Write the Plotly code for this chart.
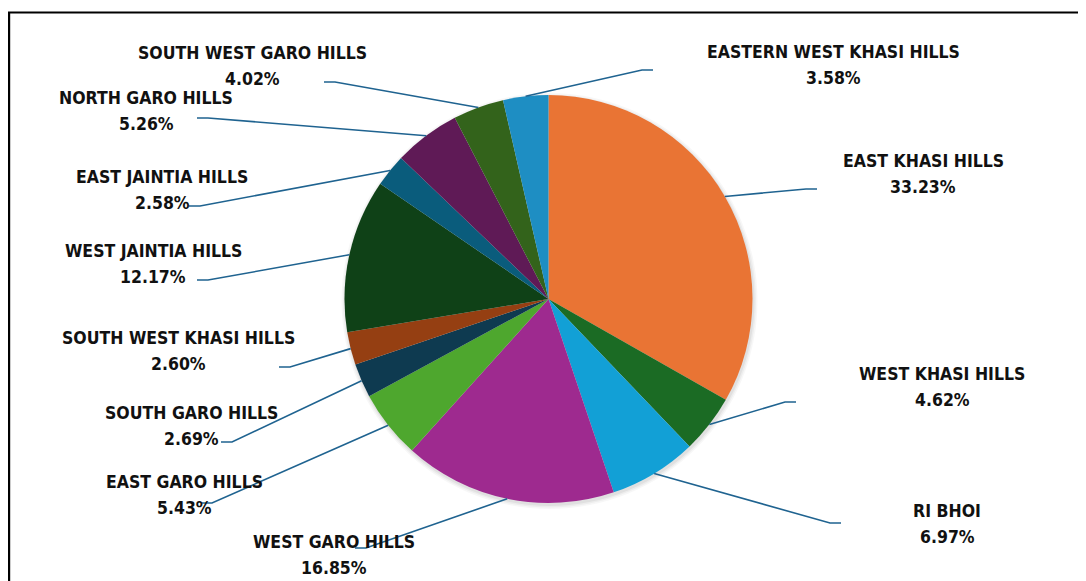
import math
import plotly.graph_objects as go

# ---- data ----
districts = [
    "EAST KHASI HILLS", "WEST KHASI HILLS", "RI BHOI", "WEST GARO HILLS",
    "EAST GARO HILLS", "SOUTH GARO HILLS", "SOUTH WEST KHASI HILLS",
    "WEST JAINTIA HILLS", "EAST JAINTIA HILLS", "NORTH GARO HILLS",
    "SOUTH WEST GARO HILLS", "EASTERN WEST KHASI HILLS",
]
shares = [33.23, 4.62, 6.97, 16.85, 5.43, 2.69, 2.60, 12.17, 2.58, 5.26, 4.02, 3.58]

# ---- styles ----
colors = [
    "#E97434", "#1B6B24", "#12A0D6", "#9E2A8F", "#4EA72E", "#0E3A50",
    "#953F12", "#0F4117", "#0A5C7C", "#5F1A56", "#33631B", "#1E8EC3",
]
# label centres and leader-line knee points (screen pixels of the 1086x581 window)
label_pos = [(923, 174), (942, 387), (947, 524), (334, 555), (184, 495), (191, 426),
             (178, 351), (153, 264), (162, 190), (146, 111), (252, 66), (833, 65)]
knee_pos = [(806, 189), (785, 402), (830, 523), (366, 548), (212, 503), (232, 442),
            (290, 367), (208, 280), (200, 206), (208, 118), (335, 82), (642, 70)]

# the page body has an 8px margin, so the figure starts at (8, 8) on screen
OFF = 8
W, H = 1086 - OFF, 581 - OFF
CX, CY, R = 548.5, 299.0, 204.0
FONT = "Liberation Sans Narrow, DejaVu Sans Condensed, Arial Narrow, sans-serif"
FSIZE = 17.5
LINE_GAP = 13
LINE_COLOR = "#1F6390"


def px(x):
    return (x - OFF) / W


def py(y):
    return 1 - (y - OFF) / H


fig = go.Figure()
fig.add_trace(go.Pie(
    labels=districts,
    values=shares,
    sort=False,
    direction="clockwise",
    rotation=0,
    marker=dict(colors=colors, line=dict(width=0)),
    textinfo="none",
    hoverinfo="label+percent",
    showlegend=False,
    domain=dict(x=[px(CX - R), px(CX + R)], y=[py(CY + R), py(CY - R)]),
))

shapes = []
# outer frame (only top & left edges visible in the crop)
shapes.append(dict(type="rect", xref="paper", yref="paper",
                   x0=px(9.1), x1=1.05, y0=py(12.5), y1=-0.05,
                   line=dict(color="black", width=2.2), layer="above"))
# soft shadow under the pie
for i, a in enumerate([0.05, 0.04, 0.03]):
    rr = R + 1 + 1.5 * i
    ox, oy = 1.0, 2.0
    shapes.append(dict(type="circle", xref="paper", yref="paper",
                       x0=px(CX + ox - rr), x1=px(CX + ox + rr),
                       y0=py(CY + oy + rr), y1=py(CY + oy - rr),
                       fillcolor=f"rgba(0,0,0,{a})", line=dict(width=0), layer="below"))

annotations = []
total = sum(shares)
cum = 0.0
for name, v, (lx, ly), (kx, ky) in zip(districts, shares, label_pos, knee_pos):
    mid = (cum + v / 2) / total * 2 * math.pi
    cum += v
    sx = CX + R * math.sin(mid)
    sy = CY - R * math.cos(mid)
    hx = kx + (11 if lx > kx else -11)
    path = f"M {px(sx)} {py(sy)} L {px(kx)} {py(ky)} L {px(hx)} {py(ky)}"
    shapes.append(dict(type="path", xref="paper", yref="paper", path=path,
                       line=dict(color=LINE_COLOR, width=1.6), layer="above"))
    for txt, yy in ((name, ly - LINE_GAP), (f"{v:.2f}%", ly + LINE_GAP)):
        annotations.append(dict(
            x=px(lx), y=py(yy), xref="paper", yref="paper",
            text=f"<b>{txt}</b>",
            showarrow=False, xanchor="center", yanchor="middle", align="center",
            font=dict(family=FONT, size=FSIZE, color="#111111"),
        ))

fig.update_layout(
    width=W, height=H,
    margin=dict(l=0, r=0, t=0, b=0),
    paper_bgcolor="white", plot_bgcolor="white",
    shapes=shapes, annotations=annotations,
)

fig.write_html("out.html")
